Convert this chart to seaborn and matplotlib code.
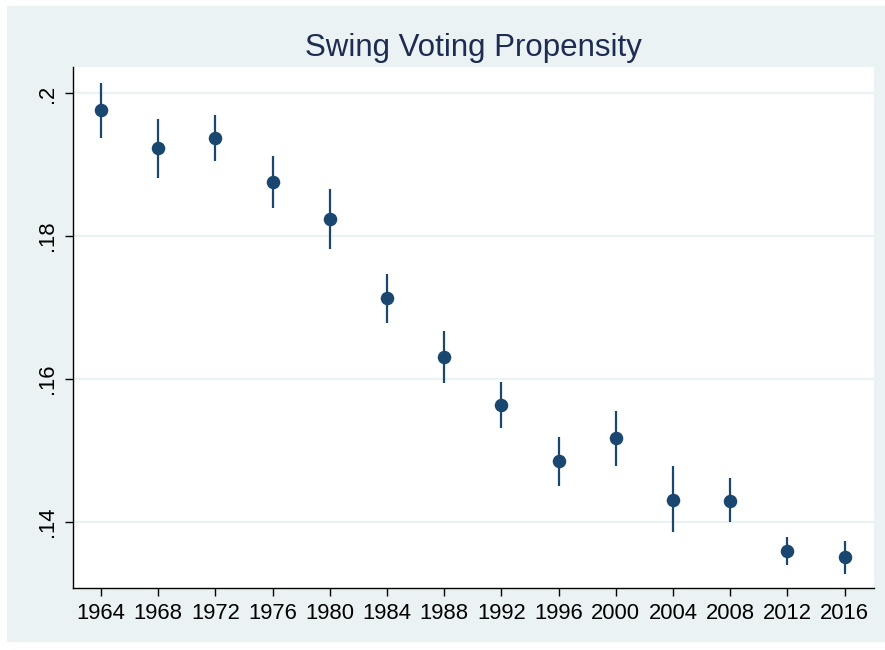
import matplotlib
matplotlib.use('Agg')
import matplotlib.pyplot as plt
import seaborn as sns
import pandas as pd
import numpy as np

# 데이터
years = [1964, 1968, 1972, 1976, 1980, 1984, 1988, 1992, 1996, 2000, 2004, 2008, 2012, 2016]
est = [0.1977, 0.1923, 0.1937, 0.1876, 0.1824, 0.1713, 0.1631, 0.1563, 0.1485, 0.1517, 0.1431, 0.1429, 0.1359, 0.1350]
ci_lo = [0.1937, 0.1882, 0.1905, 0.1840, 0.1782, 0.1678, 0.1594, 0.1531, 0.1450, 0.1478, 0.1385, 0.1399, 0.1339, 0.1327]
ci_hi = [0.2015, 0.1964, 0.1970, 0.1912, 0.1866, 0.1747, 0.1667, 0.1596, 0.1518, 0.1555, 0.1478, 0.1461, 0.1378, 0.1373]
ytick_vals = [0.14, 0.16, 0.18, 0.20]
ytick_labels = ['.14', '.16', '.18', '.2']
title = 'Swing Voting Propensity'

df = pd.DataFrame({'year': years, 'est': est, 'lo': ci_lo, 'hi': ci_hi})

navy = '#1a476f'
bg = '#eaf2f3'

sns.set_style('white')
plt.rcParams['font.family'] = ['Liberation Sans', 'DejaVu Sans']

fig = plt.figure(figsize=(8.85, 6.5), dpi=100)
fig.patch.set_facecolor('white')
# 바깥 배경 (Stata 스타일)
fig.patches.append(plt.Rectangle((7 / 885, 0.012), 1 - 7 / 885, 1 - 6 / 650 - 0.012,
                                 transform=fig.transFigure, facecolor=bg,
                                 edgecolor='none', zorder=-10))

ax = fig.add_axes([73 / 885, 62 / 650, (874 - 73) / 885, (588 - 67) / 650])
ax.set_zorder(1)
ax.set_facecolor('white')

ax.vlines(df['year'], df['lo'], df['hi'], color=navy, linewidth=1.6, zorder=3)
sns.scatterplot(data=df, x='year', y='est', ax=ax, color=navy, s=95,
                edgecolor=navy, linewidth=0, zorder=4)

ax.set_xlim(1962.05, 2018.05)
ax.set_ylim(0.1307, 0.2037)
ax.set_xticks(years)
ax.set_xticklabels([str(y) for y in years])
ax.set_yticks(ytick_vals)
ax.set_yticklabels(ytick_labels, rotation=90, va='center')
ax.grid(axis='y', color=bg, linewidth=1.6)
ax.set_axisbelow(True)

for s in ['top', 'right']:
    ax.spines[s].set_visible(False)
for s in ['left', 'bottom']:
    ax.spines[s].set_color('black')
    ax.spines[s].set_linewidth(1.0)

ax.tick_params(axis='both', which='major', direction='out', length=6, width=1.0,
               color='black', labelsize=15.8, labelcolor='black', pad=5)
ax.tick_params(axis='both', left=True, bottom=True)

ax.set_xlabel('')
ax.set_ylabel('')
ax.set_title(title, fontsize=22.5, color='#1e2c52', pad=8)

fig.savefig('out.png', dpi=100, facecolor=fig.get_facecolor())
